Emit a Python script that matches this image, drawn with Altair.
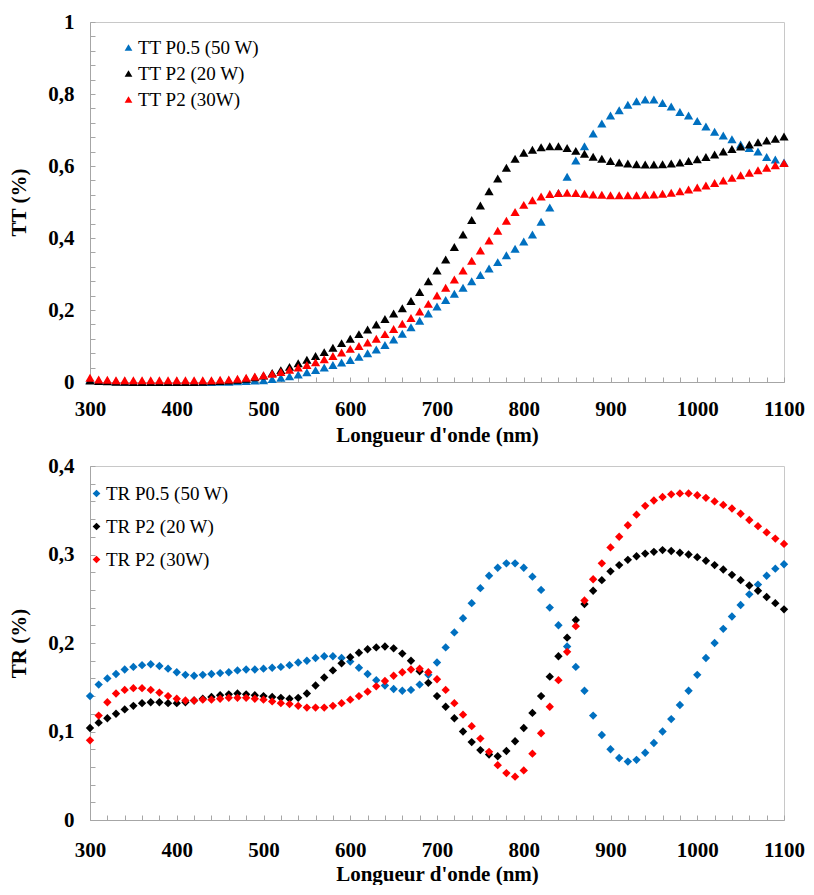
import altair as alt
import pandas as pd

wavelength = list(range(300, 1101, 10))

tt_names = ["TT P0.5 (50 W)", "TT P2 (20 W)", "TT P2 (30W)"]
tr_names = ["TR P0.5 (50 W)", "TR P2 (20 W)", "TR P2 (30W)"]
series_colors = ["#0070C0", "#000000", "#FF0000"]

tt_p05_50w = [
    0.006, 0.004, 0.003, 0.002, 0.001, 0.001, 0.0, 0.0, 0.0, 0.0,
    0.0, 0.0, 0.0, 0.0, 0.0, 0.001, 0.001, 0.002, 0.003, 0.004,
    0.005, 0.008, 0.012, 0.016, 0.021, 0.027, 0.033, 0.04, 0.047, 0.054,
    0.061, 0.07, 0.08, 0.09, 0.103, 0.118, 0.134, 0.152, 0.17, 0.19,
    0.21, 0.228, 0.245, 0.262, 0.28, 0.297, 0.315, 0.333, 0.352, 0.37,
    0.39, 0.41, 0.445, 0.485, 0.525, 0.57, 0.615, 0.655, 0.69, 0.718,
    0.74, 0.755, 0.77, 0.78, 0.785, 0.785, 0.775, 0.765, 0.75, 0.74,
    0.725, 0.71, 0.695, 0.685, 0.674, 0.66, 0.65, 0.64, 0.625, 0.618,
    0.61,
]
tt_p2_20w = [
    0.004, 0.003, 0.002, 0.001, 0.001, 0.0, 0.0, 0.0, 0.0, 0.0,
    0.0, 0.0, 0.0, 0.001, 0.002, 0.003, 0.004, 0.006, 0.009, 0.013,
    0.018, 0.025, 0.033, 0.042, 0.052, 0.062, 0.072, 0.083, 0.095, 0.108,
    0.12, 0.133, 0.146, 0.16, 0.175, 0.19, 0.205, 0.225, 0.25, 0.28,
    0.31, 0.34, 0.375, 0.41, 0.45, 0.49, 0.53, 0.565, 0.595, 0.62,
    0.637, 0.645, 0.652, 0.655, 0.655, 0.65, 0.642, 0.634, 0.626, 0.62,
    0.614, 0.61, 0.607, 0.605, 0.604, 0.604, 0.605, 0.607, 0.61, 0.614,
    0.619, 0.625, 0.632, 0.64, 0.647, 0.654, 0.66, 0.666, 0.671, 0.676,
    0.682,
]
tt_p2_30w = [
    0.012, 0.007, 0.006, 0.005, 0.005, 0.005, 0.005, 0.005, 0.005, 0.005,
    0.005, 0.005, 0.005, 0.005, 0.005, 0.006, 0.007, 0.009, 0.012, 0.015,
    0.019, 0.023, 0.028, 0.034, 0.04, 0.047, 0.055, 0.063, 0.072, 0.082,
    0.092, 0.1, 0.11, 0.12, 0.133, 0.147, 0.162, 0.178, 0.196, 0.217,
    0.24, 0.262, 0.285, 0.31, 0.337, 0.365, 0.393, 0.42, 0.448, 0.472,
    0.492, 0.505, 0.515, 0.522, 0.525, 0.526, 0.525, 0.523, 0.521, 0.52,
    0.519, 0.519, 0.519, 0.519, 0.52, 0.521, 0.523, 0.526, 0.53, 0.535,
    0.54, 0.546, 0.553, 0.56, 0.567, 0.574, 0.581, 0.588, 0.595, 0.602,
    0.608,
]

tr_p05_50w = [
    0.14, 0.153, 0.16, 0.165, 0.17, 0.173, 0.175, 0.176, 0.174, 0.171,
    0.167, 0.164, 0.163, 0.164, 0.165, 0.166, 0.167, 0.169, 0.17, 0.17,
    0.171, 0.172, 0.173, 0.175, 0.178, 0.18, 0.183, 0.185, 0.185, 0.183,
    0.179, 0.172, 0.165, 0.158, 0.152, 0.148, 0.146, 0.147, 0.153, 0.164,
    0.178, 0.195, 0.212, 0.228, 0.245, 0.262, 0.276, 0.285, 0.29, 0.29,
    0.285, 0.275, 0.26, 0.24, 0.22, 0.196, 0.173, 0.146, 0.118, 0.096,
    0.08, 0.07, 0.066, 0.068, 0.076, 0.087, 0.1, 0.114, 0.13, 0.146,
    0.164, 0.183, 0.2, 0.216, 0.23, 0.243, 0.255, 0.266, 0.276, 0.284,
    0.289,
]
tr_p2_20w = [
    0.104, 0.11, 0.115, 0.12, 0.125, 0.129, 0.132, 0.133, 0.133, 0.132,
    0.132, 0.133, 0.135, 0.137, 0.139, 0.141, 0.142, 0.143, 0.142, 0.141,
    0.14, 0.139, 0.138, 0.137, 0.138, 0.143, 0.152, 0.161, 0.169, 0.177,
    0.184, 0.189, 0.193, 0.195, 0.196, 0.194, 0.188, 0.18, 0.168, 0.155,
    0.14, 0.128, 0.115, 0.1, 0.088, 0.079, 0.074, 0.072, 0.078, 0.089,
    0.104, 0.121, 0.14, 0.162, 0.185, 0.206, 0.226, 0.244, 0.259, 0.271,
    0.281, 0.288, 0.294, 0.298, 0.301, 0.303, 0.305, 0.304, 0.302, 0.3,
    0.297, 0.293, 0.288, 0.283, 0.277, 0.271, 0.265, 0.259, 0.252, 0.245,
    0.238,
]
tr_p2_30w = [
    0.09, 0.118, 0.133, 0.143, 0.147, 0.149, 0.149, 0.147, 0.144, 0.14,
    0.137, 0.135, 0.135, 0.136, 0.136, 0.137, 0.138, 0.138, 0.138, 0.137,
    0.136, 0.134, 0.132, 0.131, 0.129, 0.127, 0.127, 0.127, 0.129, 0.132,
    0.136, 0.14, 0.145, 0.151, 0.157, 0.163, 0.167, 0.17, 0.171, 0.167,
    0.159, 0.147, 0.132, 0.119, 0.106, 0.092, 0.077, 0.062, 0.053, 0.049,
    0.056, 0.075, 0.098, 0.128, 0.158, 0.19, 0.219, 0.248, 0.272, 0.29,
    0.308, 0.32, 0.333, 0.345, 0.355, 0.361, 0.365, 0.368, 0.369, 0.369,
    0.367, 0.364, 0.36, 0.356, 0.352, 0.346, 0.339, 0.332, 0.325, 0.318,
    0.312,
]


def make_df(names, arrays):
    rows = []
    for order, (name, arr) in enumerate(zip(names, arrays)):
        for w, v in zip(wavelength, arr):
            rows.append({"wavelength": w, "value": v, "series": name, "ord": order})
    return pd.DataFrame(rows)


df_tt = make_df(tt_names, [tt_p05_50w, tt_p2_20w, tt_p2_30w])
df_tr = make_df(tr_names, [tr_p05_50w, tr_p2_20w, tr_p2_30w])

FONT = "Liberation Serif"
AXIS_GRAY = "#a6a6a6"


def x_axis(label_pad, title_pad):
    return alt.Axis(
        values=list(range(300, 1101, 20)),
        labelExpr="datum.value % 100 == 0 ? format(datum.value, 'd') : ''",
        title="Longueur d'onde (nm)",
        grid=False,
        labelOverlap=False,
        labelFlush=False,
        labelFont=FONT, labelFontSize=21, labelFontWeight="bold", labelColor="black",
        titleFont=FONT, titleFontSize=21, titleFontWeight="bold", titleColor="black",
        tickSize={"expr": "-5"}, tickColor=AXIS_GRAY, domainColor=AXIS_GRAY,
        labelPadding=label_pad, titlePadding=title_pad,
    )


def y_axis(title, values, major_every):
    return alt.Axis(
        values=values,
        labelExpr=f"round(datum.value*100) % {major_every} == 0 ? replace(format(datum.value, '~g'), '.', ',') : ''",
        title=title,
        grid=False,
        labelOverlap=False,
        labelFlush=False,
        labelFont=FONT, labelFontSize=21, labelFontWeight="bold", labelColor="black",
        titleFont=FONT, titleFontSize=21, titleFontWeight="bold", titleColor="black",
        tickSize={"expr": "-5"}, tickColor=AXIS_GRAY, domainColor=AXIS_GRAY,
        labelPadding=21, titlePadding=18,
    )


def legend(symbol, x, y, row_pad):
    return alt.Legend(
        title=None, orient="none", legendX=x, legendY=y,
        symbolType=symbol, symbolSize=60, symbolStrokeWidth=0,
        labelFont=FONT, labelFontSize=19, labelColor="black",
        rowPadding=row_pad, labelOffset=0, padding=0,
    )


tt_ticks = [round(i * 0.04, 2) for i in range(26)]
tr_ticks = [round(i * 0.02, 2) for i in range(21)]

top = alt.Chart(df_tt).mark_point(shape="triangle-up", filled=True, size=85, opacity=1).encode(
    x=alt.X("wavelength:Q", scale=alt.Scale(domain=[300, 1100], nice=False), axis=x_axis(21, 5)),
    y=alt.Y("value:Q", scale=alt.Scale(domain=[0, 1], nice=False), axis=y_axis("TT (%)", tt_ticks, 20)),
    color=alt.Color("series:N", scale=alt.Scale(domain=tt_names, range=series_colors),
                    legend=legend("triangle-up", 29, 16, 6)),
    order=alt.Order("ord:Q"),
).properties(width=694, height=360)

bottom = alt.Chart(df_tr).mark_point(shape="diamond", filled=True, size=70, opacity=1).encode(
    x=alt.X("wavelength:Q", scale=alt.Scale(domain=[300, 1100], nice=False), axis=x_axis(24, 3)),
    y=alt.Y("value:Q", scale=alt.Scale(domain=[0, 0.4], nice=False), axis=y_axis("TR (%)", tr_ticks, 10)),
    color=alt.Color("series:N", scale=alt.Scale(domain=tr_names, range=series_colors),
                    legend=legend("diamond", -3, 18, 13)),
    order=alt.Order("ord:Q"),
).properties(width=694, height=354)

chart = alt.vconcat(top, bottom, spacing=8).resolve_scale(color="independent").configure_view(
    stroke="#c8c8c8"
).properties(padding={"left": 0, "top": 2, "right": 0, "bottom": 0})

chart.save("out.html", embed_options={"renderer": "svg", "actions": False})
